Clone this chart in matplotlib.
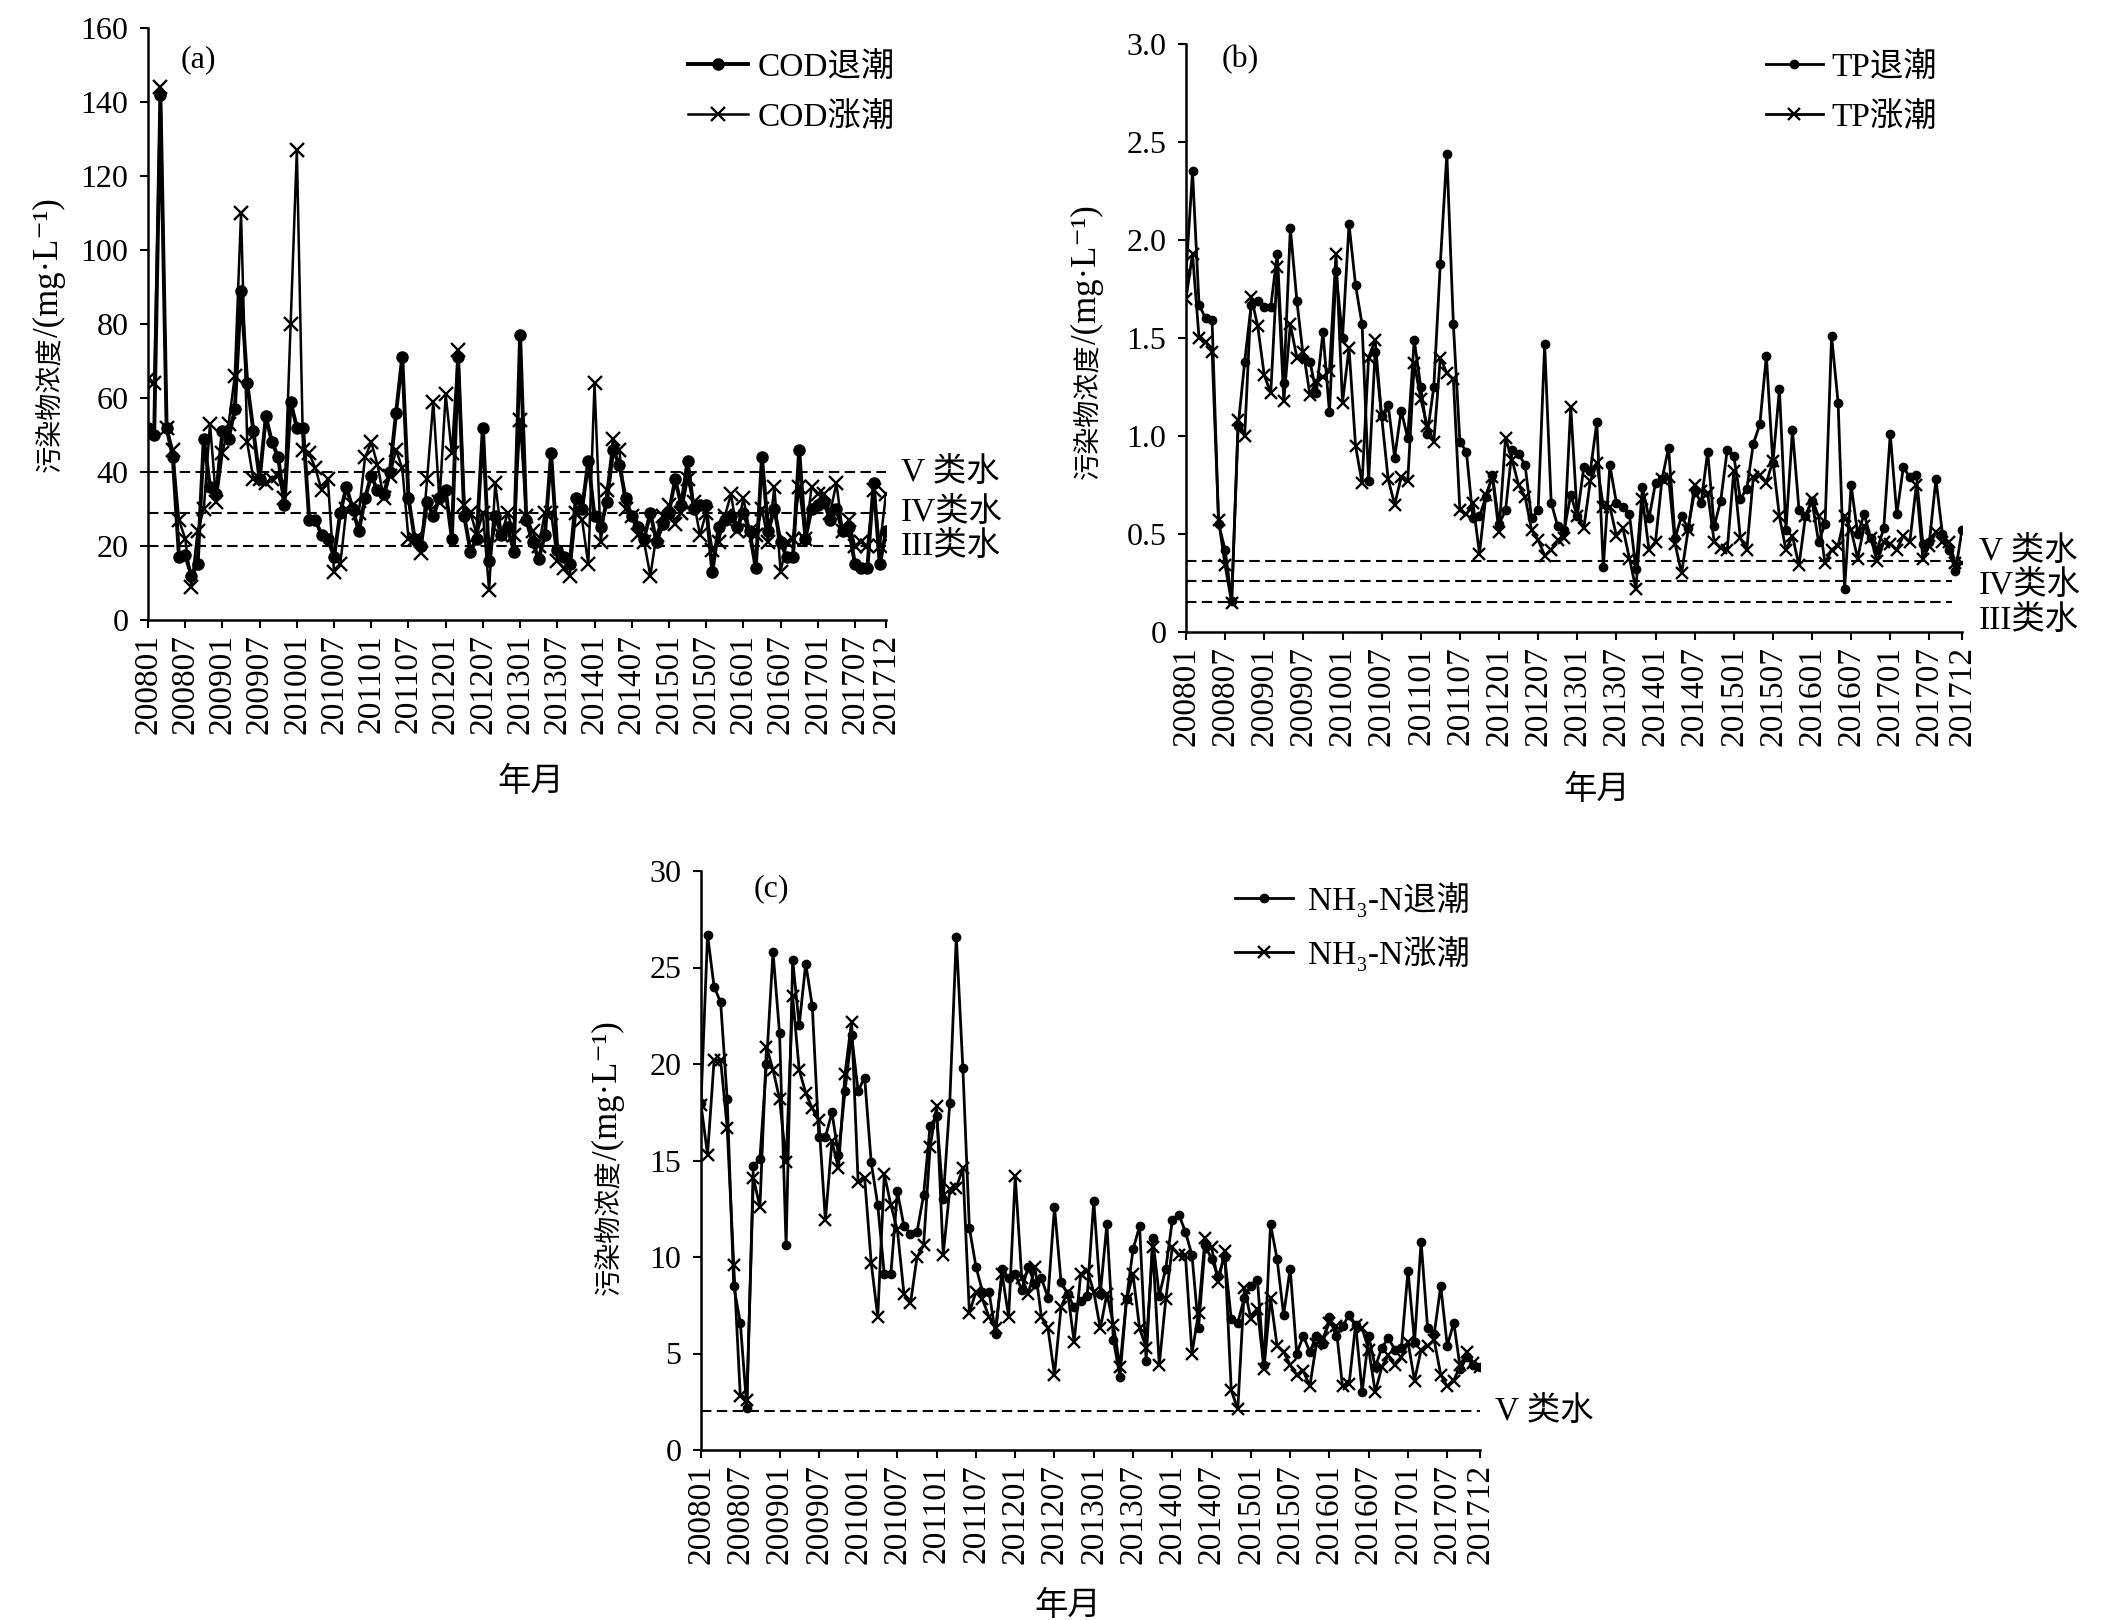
"""Monthly COD / TP / NH3-N at ebb and flood tide, 2008-2017, three panels."""

import matplotlib
matplotlib.use("Agg")
import matplotlib.pyplot as plt
import numpy as np

FONTS = ["Liberation Serif", "Noto Sans CJK SC", "DejaVu Sans"]
plt.rcParams["font.family"] = FONTS

MONTHS = [f"{y}{m:02d}" for y in range(2008, 2018) for m in range(1, 13)]

COD_EBB = [52, 50, 142, 52, 44, 17, 17.5, 12, 15, 49,
           36, 34, 51, 49, 57, 89, 64, 51, 38, 55,
           48, 44, 31, 59, 52, 52, 27, 27, 23, 22,
           17, 29, 36, 30, 24, 33, 39, 35, 34, 40,
           56, 71, 33, 22, 20, 32, 28, 33, 35, 22,
           71, 28, 18.5, 22, 52, 16, 28, 23, 25, 18.5,
           77, 27, 21, 16.5, 23, 45, 19, 17, 15, 33,
           30, 43, 28, 25, 32, 46, 42, 33, 28, 25,
           22, 29, 21, 26, 29, 38, 31, 43, 30, 31,
           31, 13, 25, 27, 28, 25, 29, 24, 14, 44,
           24, 30, 21, 17, 17, 46, 22, 30, 31, 32,
           27, 30, 24, 25, 15, 14, 14, 37, 15, 24]
COD_FLOOD = [65, 64, 144, 52, 46, 27, 22, 9, 24, 30,
             53, 32, 45, 53, 66, 110, 48, 38, 38, 37,
             38, 39, 33, 80, 127, 46, 45, 41, 35, 38,
             13, 15, 30, 31, 29, 44, 48, 42, 33, 39,
             46, 41, 22, 22, 18, 38, 59, 32, 61, 45,
             73, 31, 29, 23, 29, 8, 37, 23, 29, 23,
             54, 28, 24, 20, 29, 29, 16, 14, 12, 29,
             27, 15, 64, 21, 35, 49, 46, 30, 28, 23,
             21, 12, 23, 28, 31, 26, 29, 38, 32, 23,
             29, 19, 21, 28, 34, 24, 33, 24, 23, 30,
             21, 36, 13, 21, 22, 36, 22, 36, 34, 34,
             29, 37, 24, 27, 20, 21, 20, 35, 20, 34]

TP_EBB = [1.83, 2.35, 1.67, 1.60, 1.59, 0.55, 0.42, 0.16, 1.05, 1.38,
          1.67, 1.69, 1.66, 1.66, 1.93, 1.27, 2.06, 1.69, 1.40, 1.38,
          1.22, 1.53, 1.12, 1.84, 1.50, 2.08, 1.77, 1.57, 0.77, 1.43,
          1.10, 1.16, 0.89, 1.13, 0.99, 1.49, 1.25, 1.01, 1.25, 1.88,
          2.44, 1.57, 0.97, 0.92, 0.58, 0.59, 0.69, 0.80, 0.55, 0.62,
          0.93, 0.91, 0.85, 0.58, 0.62, 1.47, 0.66, 0.54, 0.52, 0.70,
          0.59, 0.84, 0.82, 1.07, 0.33, 0.85, 0.66, 0.64, 0.60, 0.32,
          0.74, 0.58, 0.76, 0.78, 0.94, 0.48, 0.59, 0.53, 0.72, 0.66,
          0.92, 0.54, 0.67, 0.93, 0.90, 0.68, 0.73, 0.96, 1.06, 1.41,
          0.86, 1.24, 0.52, 1.03, 0.625, 0.59, 0.67, 0.46, 0.55, 1.51,
          1.17, 0.22, 0.75, 0.50, 0.60, 0.48, 0.42, 0.53, 1.01, 0.60,
          0.84, 0.79, 0.80, 0.45, 0.46, 0.78, 0.50, 0.42, 0.31, 0.52]
TP_FLOOD = [1.70, 1.93, 1.50, 1.48, 1.43, 0.57, 0.34, 0.15, 1.08, 1.00,
            1.71, 1.56, 1.31, 1.22, 1.86, 1.18, 1.57, 1.40, 1.43, 1.21,
            1.28, 1.30, 1.33, 1.93, 1.17, 1.45, 0.95, 0.76, 1.40, 1.49,
            1.10, 0.78, 0.65, 0.79, 0.77, 1.37, 1.19, 1.05, 0.97, 1.40,
            1.32, 1.29, 0.62, 0.60, 0.66, 0.40, 0.70, 0.79, 0.51, 0.99,
            0.88, 0.75, 0.69, 0.52, 0.47, 0.39, 0.42, 0.47, 0.48, 1.15,
            0.59, 0.53, 0.77, 0.86, 0.64, 0.64, 0.49, 0.53, 0.375, 0.22,
            0.68, 0.42, 0.46, 0.78, 0.79, 0.45, 0.30, 0.52, 0.75, 0.72,
            0.71, 0.46, 0.43, 0.42, 0.82, 0.48, 0.42, 0.79, 0.80, 0.76,
            0.875, 0.59, 0.42, 0.49, 0.34, 0.59, 0.68, 0.59, 0.35, 0.42,
            0.44, 0.59, 0.52, 0.375, 0.54, 0.48, 0.36, 0.46, 0.45, 0.42,
            0.49, 0.46, 0.75, 0.375, 0.44, 0.51, 0.46, 0.46, 0.35, 0.35]

NH3_EBB = [18.0, 26.7, 24.0, 23.2, 18.2, 8.5, 6.6, 2.2, 14.7, 15.1,
           20.0, 25.8, 21.6, 10.6, 25.4, 22.0, 25.2, 23.0, 16.2, 16.2,
           17.5, 15.3, 18.6, 21.5, 18.6, 19.3, 14.9, 12.7, 9.1, 9.1,
           13.4, 11.6, 11.2, 11.3, 13.2, 16.8, 17.3, 13.0, 18.0, 26.6,
           19.8, 11.5, 9.5, 8.2, 8.2, 6.0, 9.4, 8.9, 9.1, 8.3,
           9.5, 8.6, 8.9, 7.9, 12.6, 8.7, 8.1, 7.4, 7.7, 8.0,
           12.9, 8.1, 11.7, 5.7, 3.8, 7.8, 10.4, 11.6, 4.6, 11.0,
           8.0, 9.4, 11.9, 12.2, 11.3, 10.1, 6.3, 10.6, 9.9, 9.0,
           10.0, 6.8, 6.6, 7.9, 8.5, 8.8, 4.4, 11.7, 9.9, 7.0,
           9.4, 5.0, 5.9, 5.1, 5.9, 5.5, 6.9, 5.9, 6.4, 7.0,
           6.5, 3.0, 5.9, 4.3, 5.3, 5.8, 5.2, 5.3, 9.3, 5.6,
           10.8, 6.3, 6.0, 8.5, 5.4, 6.6, 4.2, 4.8, 4.4, 4.3]
NH3_FLOOD = [17.9, 15.3, 20.2, 20.2, 16.7, 9.6, 2.8, 2.6, 14.1, 12.6,
             20.9, 19.7, 18.2, 14.9, 23.5, 19.7, 18.5, 17.7, 17.1, 11.9,
             16.0, 14.6, 19.5, 22.2, 13.9, 14.1, 9.7, 6.9, 14.3, 12.7,
             11.4, 8.1, 7.6, 10.0, 10.6, 15.7, 17.8, 10.1, 13.5, 13.6,
             14.6, 7.1, 8.2, 7.8, 6.9, 6.3, 9.1, 6.9, 14.2, 8.9,
             8.1, 9.5, 6.9, 6.3, 3.9, 7.4, 8.2, 5.6, 9.1, 9.3,
             8.2, 6.3, 8.1, 6.5, 4.3, 7.8, 9.1, 6.3, 5.3, 10.5,
             4.4, 7.8, 10.5, 10.1, 10.1, 5.0, 7.1, 11.0, 10.5, 8.7,
             10.3, 3.1, 2.1, 8.4, 6.8, 7.3, 4.2, 7.9, 5.4, 5.1,
             4.4, 3.9, 4.1, 3.3, 5.5, 5.8, 6.6, 6.4, 3.3, 3.4,
             6.5, 6.3, 5.2, 3.0, 4.3, 4.9, 4.4, 4.8, 5.6, 3.6,
             5.2, 5.4, 5.7, 3.9, 3.3, 3.6, 4.4, 5.1, 4.5, 4.3]

# water-quality class limits: (value, label, label y)
COD_CLASSES = [(40, "V 类水", 40), (29, "IV类水", 29), (20, "III类水", 20)]
TP_CLASSES = [(0.36, "V 类水", 0.41), (0.26, "IV类水", 0.24), (0.155, "III类水", 0.06)]
NH3_CLASSES = [(2.0, "V 类水", 2.0)]

YLABEL_CN = "污染物浓度"
YLABEL_UNIT = "/(mg·L⁻¹)"
W, H = 2107, 1620


def px_axes(fig, left, right, top, bottom):
    return fig.add_axes([left / W, 1 - bottom / H, (right - left) / W, (bottom - top) / H])


def style_axes(ax, ymax, ystep, yfmt):
    x = np.arange(len(MONTHS))
    for side in ("top", "right"):
        ax.spines[side].set_visible(False)
    for side in ("left", "bottom"):
        ax.spines[side].set_linewidth(1.8)
    ticks = list(x[::6]) + [x[-1]]
    ax.set_xticks(ticks)
    ax.set_xticklabels([MONTHS[i] for i in ticks], rotation=90, fontsize=24)
    ax.set_xlim(0, x[-1])
    ax.set_ylim(0, ymax)
    yt = np.arange(0, ymax + ystep / 2, ystep)
    ax.set_yticks(yt)
    ax.set_yticklabels([yfmt(v) for v in yt], fontsize=23)
    ax.tick_params(direction="out", length=6, width=1.5, colors="black")
    ax.tick_params(axis="y", pad=8)
    ax.tick_params(axis="x", pad=4)


def draw_panel(ax, ebb, flood, names, lw, ms_dot, ms_x, classes, lab_x, tag, tag_xy,
               leg_xy, handlelen, textpad, line_end=None):
    x = np.arange(len(MONTHS))
    ax.plot(x, ebb, color="black", lw=lw[0], marker="o", ms=ms_dot, label=names[0])
    ax.plot(x, flood, color="black", lw=lw[1], marker="x", ms=ms_x, mew=1.7,
            label=names[1])
    end = x[-1] if line_end is None else line_end
    for val, text, ty in classes:
        ax.hlines(val, 0, end, colors="black", lw=1.5, linestyles=(0, (5, 2.6)))
        ax.text(lab_x, ty, text, transform=ax.get_yaxis_transform(), fontsize=24,
                va="center", ha="left", family=FONTS)
    ax.text(tag_xy[0], tag_xy[1], tag, transform=ax.transAxes, fontsize=23,
            ha="center", va="center")
    ax.legend(loc="upper left", bbox_to_anchor=(leg_xy[0] / W, 1 - leg_xy[1] / H),
              bbox_transform=ax.figure.transFigure, frameon=False, fontsize=24,
              borderpad=0, borderaxespad=0, handlelength=handlelen,
              handletextpad=textpad, labelspacing=0.56)


def ylabel(fig, renderer, base_x, center_y):
    # Chinese part is set smaller than the Latin unit part, as in the source
    kw = dict(rotation=90, rotation_mode="anchor", ha="left", va="baseline",
              family=FONTS)
    t1 = fig.text(base_x / W, 0, YLABEL_CN, fontsize=19.5, **kw)
    t2 = fig.text(base_x / W, 0, YLABEL_UNIT, fontsize=25, **kw)
    h1 = t1.get_window_extent(renderer).height
    h2 = t2.get_window_extent(renderer).height
    y0 = (H - center_y) - (h1 + h2) / 2
    t1.set_y(y0 / H)
    t2.set_y((y0 + h1) / H)


def main():
    fig = plt.figure(figsize=(W / 100, H / 100), dpi=100)

    ax_a = px_axes(fig, 148, 886, 28, 620)
    style_axes(ax_a, 160, 20, lambda v: f"{v:.0f}")
    draw_panel(ax_a, COD_EBB, COD_FLOOD, ["COD退潮", "COD涨潮"], (2.8, 1.8), 8, 10,
               COD_CLASSES, 1.02, "(a)", (0.068, 0.946), (688, 52), 1.8, 0.3)

    ax_b = px_axes(fig, 1186, 1962, 44, 632)
    style_axes(ax_b, 3.0, 0.5, lambda v: "0" if v == 0 else f"{v:.1f}")
    draw_panel(ax_b, TP_EBB, TP_FLOOD, ["TP退潮", "TP涨潮"], (2.0, 2.0), 6, 9,
               TP_CLASSES, 1.022, "(b)", (0.07, 0.974), (1766, 52), 1.7, 0.25,
               line_end=117.5)

    ax_c = px_axes(fig, 701, 1480, 871, 1450)
    style_axes(ax_c, 30, 5, lambda v: f"{v:.0f}")
    draw_panel(ax_c, NH3_EBB, NH3_FLOOD, ["NH₃-N退潮", "NH₃-N涨潮"], (2.0, 2.0), 6, 9,
               NH3_CLASSES, 1.019, "(c)", (0.09, 0.969), (1235, 882), 1.75, 0.45)

    renderer = fig.canvas.get_renderer()
    for (bx, cy) in [(58, 335), (1096, 342), (617, 1158)]:
        ylabel(fig, renderer, bx, cy)
    for (cx, cy) in [(531, 782), (1597, 790), (1068, 1606)]:
        fig.text(cx / W, 1 - cy / H, "年月", ha="center", va="center",
                 fontsize=24, family=FONTS)

    fig.savefig("out.png", dpi=100)


if __name__ == "__main__":
    main()
